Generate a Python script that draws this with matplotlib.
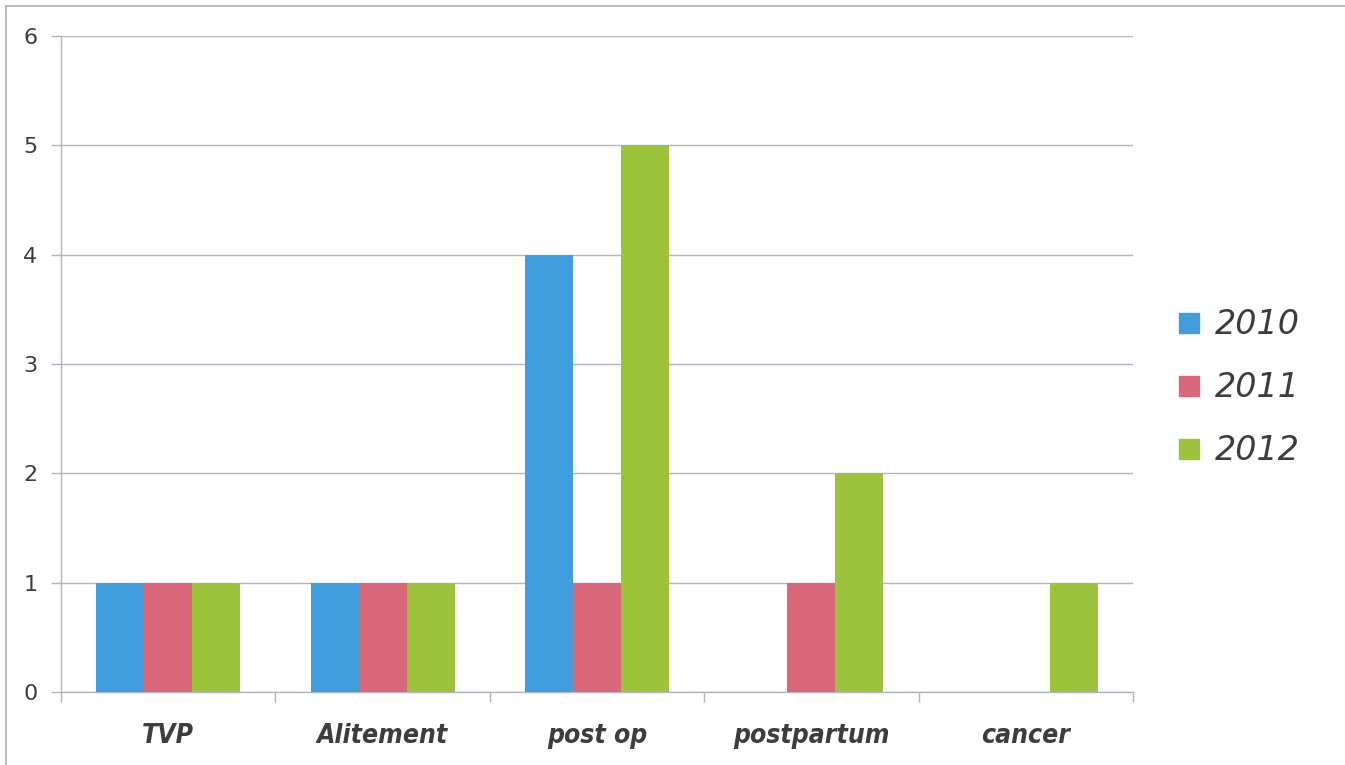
import numpy as np
import matplotlib.pyplot as plt
from matplotlib.lines import Line2D

# Effectifs par circonstance et par année
categories = ["TVP", "Alitement", "post op", "postpartum", "cancer"]
annees = ["2010", "2011", "2012"]
v2010 = [1, 1, 4, 0, 0]
v2011 = [1, 1, 1, 1, 0]
v2012 = [1, 1, 5, 2, 1]
yticks = [0, 1, 2, 3, 4, 5, 6]

couleurs = ["#3f9edb", "#d9697a", "#9cc33b"]
grille = "#adb5c6"
texte = "#3d3d3d"

fig = plt.figure(figsize=(13.45, 7.65), dpi=100)
ax = fig.add_axes([0.0454, 0.0954, 0.797, 0.8575])

# cadre extérieur du graphique
fig.add_artist(Line2D([6/1345, 6/1345], [0, 1 - 6/765], color=grille, lw=1.3))
fig.add_artist(Line2D([6/1345, 1], [1 - 6/765, 1 - 6/765], color=grille, lw=1.3))

x = np.arange(len(categories))
w = 0.224
for k, (serie, nom) in enumerate(zip([v2010, v2011, v2012], annees)):
    ax.bar(x + (k - 1) * w, serie, w, color=couleurs[k], label=nom, zorder=3)

ax.set_xlim(-0.5, len(categories) - 0.5)
ax.set_ylim(0, 6)
ax.set_yticks(yticks)
ax.yaxis.grid(True, color=grille, lw=1.0, zorder=0)
ax.tick_params(axis="y", length=7, width=1.0, color=grille, pad=10,
               labelsize=16, labelcolor=texte)

# graduations entre les catégories, libellés au centre
ax.set_xticks(x)
ax.set_xticks(np.arange(len(categories) + 1) - 0.5, minor=True)
ax.set_xticklabels(categories, fontsize=19, fontweight="heavy", style="italic",
                   fontstretch="condensed", color=texte)
ax.tick_params(axis="x", which="major", length=0, pad=22)
ax.tick_params(axis="x", which="minor", length=7, width=1.0, color=grille)

for s in ["top", "right"]:
    ax.spines[s].set_visible(False)
for s in ["left", "bottom"]:
    ax.spines[s].set_color(grille)
    ax.spines[s].set_linewidth(1.0)

poignees = [Line2D([], [], marker="s", ls="none", markersize=15,
                   color=c) for c in couleurs]
fig.legend(poignees, annees, loc="center left", bbox_to_anchor=(0.849, 0.493),
           frameon=False, prop={"size": 24, "style": "italic"},
           labelcolor=texte, handletextpad=0.3, labelspacing=0.9,
           handlelength=1.0)

fig.savefig("out.png", dpi=100)
